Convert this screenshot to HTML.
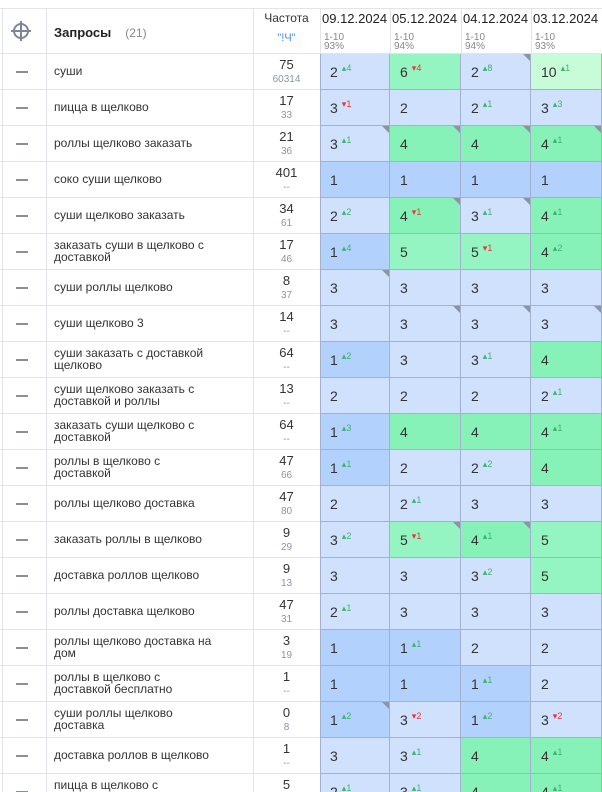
<!DOCTYPE html>
<html><head><meta charset="utf-8">
<style>
html,body{margin:0;padding:0;background:#fff;}
#t{position:relative;width:602px;height:792px;overflow:hidden;font-family:"Liberation Sans","DejaVu Sans",sans-serif;color:#333;}
.a{position:absolute;box-sizing:border-box;}
.hl{background:#e2e4ea;}
.q{font-size:12px;line-height:12px;color:#333;display:flex;align-items:center;}
.rk{font-size:14px;color:#333;}
.d{font-size:9px;}
.tri{width:0;height:0;border-top:7px solid #8a94a4;border-left:7px solid transparent;}
</style></head><body>
<div id="t"></div>
<script>
const dates=["09.12.2024","05.12.2024","04.12.2024","03.12.2024"];
const topShare=["93%","94%","94%","93%"];
const queries=["суши","пицца в щелково","роллы щелково заказать","соко суши щелково","суши щелково заказать","заказать суши в щелково с доставкой","суши роллы щелково","суши щелково 3","суши заказать с доставкой щелково","суши щелково заказать с доставкой и роллы","заказать суши щелково с доставкой","роллы в щелково с доставкой","роллы щелково доставка","заказать роллы в щелково","доставка роллов щелково","роллы доставка щелково","роллы щелково доставка на дом","роллы в щелково с доставкой бесплатно","суши роллы щелково доставка","доставка роллов в щелково","пицца в щелково с доставкой"];
const freqMain=["75","17","21","401","34","17","8","14","64","13","64","47","47","9","9","47","3","1","0","1","5"];
const freqExact=["60314","33","36","--","61","46","37","--","--","--","--","66","80","29","13","31","19","--","8","--","--"];
const ranks=[[2,6,2,10],[3,2,2,3],[3,4,4,4],[1,1,1,1],[2,4,3,4],[1,5,5,4],[3,3,3,3],[3,3,3,3],[1,3,3,4],[2,2,2,2],[1,4,4,4],[1,2,2,4],[2,2,3,3],[3,5,4,5],[3,3,3,5],[2,3,3,3],[1,1,2,2],[1,1,1,2],[1,3,1,3],[3,3,4,4],[2,3,4,4]];
const deltas=[[4,-4,8,1],[-1,0,1,3],[1,0,0,1],[0,0,0,0],[2,-1,1,1],[4,0,-1,2],[0,0,0,0],[0,0,0,0],[2,0,1,0],[0,0,0,1],[3,0,0,1],[1,0,2,0],[0,1,0,0],[2,-1,1,0],[0,0,2,0],[1,0,0,0],[0,1,0,0],[0,0,1,0],[2,-2,2,-2],[0,1,0,1],[1,1,0,1]];
const marks=[[0,0,1,0],[0,0,0,0],[1,1,1,1],[0,0,0,0],[0,1,1,0],[0,0,0,0],[1,0,0,0],[0,1,1,1],[0,0,0,0],[0,0,0,0],[0,0,0,0],[0,0,0,0],[0,0,0,0],[0,1,1,0],[0,0,0,0],[0,0,0,0],[0,0,0,0],[0,0,0,0],[1,0,0,0],[0,0,0,0],[0,0,0,0]];

const T=document.getElementById('t');
const colX=[320,390,461,531,602];
const headTop=8,rowTop=54,rowH=36;
function yOf(i){return rowTop+i*rowH;}
function colorOf(r){if(r<=1)return '#b3d1fd';if(r<=3)return '#cfe1fd';if(r==4)return '#86f2b8';if(r<=6)return '#95f5c2';return '#c8fbd8';}
function div(cls,x,y,w,h,html,css){const e=document.createElement('div');e.className='a '+(cls||'');e.style.left=x+'px';e.style.top=y+'px';if(w!=null)e.style.width=w+'px';if(h!=null)e.style.height=h+'px';if(html!=null)e.innerHTML=html;if(css)e.style.cssText+=css;T.appendChild(e);return e;}

let e;
e=div('hl',0,headTop,602,1);
e=div('hl',2,headTop,1,800);
e=div('',8,18,26,26,'<svg width="26" height="26" viewBox="0 0 26 26"><circle cx="13" cy="13" r="7" fill="none" stroke="#7c8698" stroke-width="2"/><line x1="13" y1="3" x2="13" y2="23" stroke="#7c8698" stroke-width="2"/><line x1="3" y1="13" x2="23" y2="13" stroke="#7c8698" stroke-width="2"/></svg>');

e=div('',54,24,200,16,'<b style="font-size:13px;color:#222">Запросы</b><span style="font-size:12px;color:#888;margin-left:14px">(21)</span>');

e=div('',253,11,67,14,'Частота',"font-size:12px;text-align:center;color:#333");

e=div('',253,32,67,12,'"!Ч"',"font-size:11px;text-align:center;color:#4a90e2");

[46,253].forEach((x,k)=>{e=div('hl',x,headTop,1,800);});
dates.forEach((d,j)=>{
  e=div('',colX[j]+2,11,70,16,d,"font-size:13px;color:#222;white-space:nowrap");
  
  e=div('',colX[j]+4,33,60,22,'1-10<br>'+topShare[j],"font-size:10px;line-height:9px;color:#888");
  
  e=div('hl',colX[j],headTop,1,46);
});
e=div('hl',0,53,602,1);

queries.forEach((q,i)=>{
  const y=yOf(i);
  e=div('hl',0,y+rowH-1,320,1);
  e=div('',16,y+17,12,2,null,"background:#8a8f99");
  
  e=div('q',54,y,158,rowH-2,'<span>'+q+'</span>');
  
  e=div('',253,y+3,67,16,freqMain[i],"font-size:13px;text-align:center;color:#333");
  
  e=div('',253,y+20,67,12,freqExact[i],"font-size:10px;text-align:center;color:#8a94a8");
  
  ranks[i].forEach((r,j)=>{
    const x=colX[j],w=colX[j+1]-x;
    const c=div('',x,y,w,rowH,null,"background:"+colorOf(r)+";border-right:1px solid #a3b1cf;border-bottom:1px solid #a3b1cf;"+(j==0?"border-left:1px solid #a3b1cf;":""));
    
    const dl=deltas[i][j];
    let html='<span class="rk">'+r+'</span>';
    if(dl){html+='<span class="d" style="color:'+(dl>0?'#3bb56b':'#f0303a')+';position:relative;top:-6px;margin-left:4px">'+(dl>0?'▴':'▾')+Math.abs(dl)+'</span>';}
    const t=div('',x+10,y+10,w-12,18,html);
    
    if(marks[i][j]){const m=div('tri',colX[j+1]-8,y,null,null);}
  });
});
</script>
</body></html>
